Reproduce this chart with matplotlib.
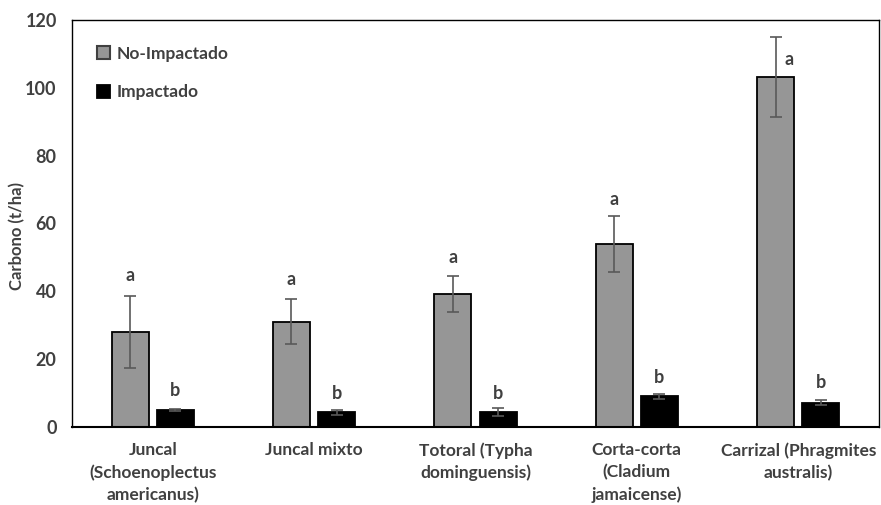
import numpy as np
import matplotlib.pyplot as plt

plt.rcParams['font.family'] = ['Lato', 'DejaVu Sans']

categorias = ["Juncal\n(Schoenoplectus\namericanus)", "Juncal mixto",
              "Totoral (Typha\ndominguensis)", "Corta-corta\n(Cladium\njamaicense)",
              "Carrizal (Phragmites\naustralis)"]
no_imp = [28.0, 31.0, 39.2, 54.0, 103.3]
no_imp_err = [10.6, 6.6, 5.2, 8.3, 11.8]
imp = [5.0, 4.3, 4.5, 9.0, 7.2]
imp_err = [0.3, 0.7, 1.2, 0.8, 0.7]
letras_a = ["a", "a", "a", "a", "a"]
letras_b = ["b", "b", "b", "b", "b"]
y_a = [44.8, 43.4, 49.9, 67.0, 108.3]
y_b = [10.9, 10.0, 10.0, 14.7, 13.0]

texto = "#404040"
fig = plt.figure(figsize=(8.81, 5.05), dpi=100)
ax = fig.add_axes([0.0817, 0.1545, 0.9160, 0.8059])

x = np.arange(len(categorias))
w = 0.23
off = 0.14
ax.bar(x - off, no_imp, w, color="#969696", edgecolor="black", linewidth=1.3,
       yerr=no_imp_err, error_kw=dict(ecolor="#595959", elinewidth=1.2, capsize=4, capthick=1.2),
       label="No-Impactado", zorder=2)
ax.bar(x + off, imp, w, color="black", edgecolor="black", linewidth=1.3,
       yerr=imp_err, error_kw=dict(ecolor="#595959", elinewidth=1.2, capsize=4, capthick=1.2),
       label="Impactado", zorder=2)

for i in range(len(categorias)):
    xa = x[i] - off
    if i == 4:
        xa = x[i] - off + 0.08
    ax.text(xa, y_a[i], letras_a[i], ha="center", va="center", fontsize=13,
            fontweight="bold", color=texto)
    ax.text(x[i] + off, y_b[i], letras_b[i], ha="center", va="center", fontsize=13,
            fontweight="bold", color=texto)

ax.set_xlim(-0.5, 4.5)
ax.set_ylim(0, 120)
ax.set_yticks(np.arange(0, 121, 20))
ax.set_xticks(x)
ax.set_xticklabels(categorias, fontsize=12.5, fontweight="bold", color=texto, linespacing=1.45)
ax.tick_params(axis="x", length=0, pad=11)
ax.tick_params(axis="y", length=0, labelsize=13, labelcolor=texto, pad=11)
for t in ax.get_yticklabels():
    t.set_fontweight("bold")
ax.set_ylabel("Carbono (t/ha)", fontsize=12, fontweight="bold", color=texto)
ax.yaxis.set_label_coords(-0.058, 0.47)
for s in ax.spines.values():
    s.set_color("black")
    s.set_linewidth(1.0)
ax.spines["bottom"].set_linewidth(1.5)

leg = ax.legend(loc="upper left", bbox_to_anchor=(0.012, 0.975), frameon=False,
                prop=dict(weight="bold", size=12.5), handlelength=0.75, handleheight=0.75,
                handletextpad=0.35, labelspacing=1.3, labelcolor=texto)
leg.legend_handles[0].set_edgecolor("#404040")
leg.legend_handles[0].set_linewidth(1.5)

fig.savefig("out.png", dpi=100)
